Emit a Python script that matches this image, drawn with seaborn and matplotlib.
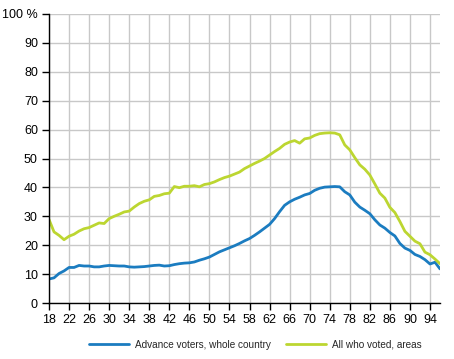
import numpy as np
import pandas as pd
import matplotlib
matplotlib.use("Agg")
import matplotlib.pyplot as plt
import seaborn as sns

# Age 18..96
ages = list(range(18, 97))

advance_voters = [
    8.3, 8.7, 10.2, 11.1, 12.3, 12.3, 13.0, 12.8, 12.8, 12.5,   # 18-27
    12.5, 12.8, 13.0, 12.9, 12.8, 12.8, 12.5, 12.4, 12.5, 12.6,  # 28-37
    12.8, 13.0, 13.1, 12.8, 12.9, 13.3, 13.6, 13.8, 13.9, 14.2,  # 38-47
    14.8, 15.3, 15.9, 16.8, 17.7, 18.4, 19.1, 19.8, 20.6, 21.5,  # 48-57
    22.3, 23.4, 24.6, 25.9, 27.2, 29.2, 31.6, 33.8, 35.0, 35.9,  # 58-67
    36.6, 37.4, 37.9, 39.0, 39.7, 40.1, 40.2, 40.3, 40.2, 38.5,  # 68-77
    37.4, 34.9, 33.2, 32.1, 30.9, 28.8, 27.0, 25.9, 24.4, 23.2,  # 78-87
    20.6, 19.0, 18.2, 16.8, 16.1, 15.0, 13.5, 14.1, 11.8         # 88-96
]

all_voted = [
    28.9, 24.6, 23.4, 21.9, 23.1, 23.8, 24.9, 25.7, 26.1, 26.9,  # 18-27
    27.7, 27.5, 29.2, 30.0, 30.7, 31.5, 31.8, 33.2, 34.4, 35.2,  # 28-37
    35.7, 36.9, 37.2, 37.8, 38.0, 40.3, 39.9, 40.4, 40.4, 40.6,  # 38-47
    40.2, 41.0, 41.3, 41.9, 42.7, 43.4, 43.9, 44.6, 45.3, 46.5,  # 48-57
    47.4, 48.3, 49.1, 50.0, 51.2, 52.4, 53.5, 54.9, 55.7, 56.2,  # 58-67
    55.3, 56.8, 57.1, 58.0, 58.6, 58.8, 58.9, 58.8, 58.2, 54.7,  # 68-77
    53.0, 50.3, 47.8, 46.3, 44.3, 41.2, 38.0, 36.3, 33.1, 31.3,  # 78-87
    28.2, 24.8, 23.1, 21.4, 20.5, 17.6, 16.7, 15.2, 13.6         # 88-96
]

series_names = ["Advance voters, whole country", "All who voted, areas"]
colors = ["#1b7cc0", "#bcd631"]

df = pd.DataFrame({"Age": ages,
                   series_names[0]: advance_voters,
                   series_names[1]: all_voted})
df_long = df.melt(id_vars="Age", var_name="Series", value_name="Share")

sns.set_style("white")
plt.rcParams['font.family'] = ['Liberation Sans', 'DejaVu Sans']

fig = plt.figure(figsize=(4.54, 3.59), dpi=100)
ax = fig.add_axes([49 / 454, 1 - 303 / 359, (440 - 49) / 454, (303 - 14) / 359])

sns.lineplot(data=df_long, x="Age", y="Share", hue="Series", palette=colors,
             linewidth=2, ax=ax)

ax.set_xlim(18, 96)
ax.set_ylim(0, 100)
xticks = list(range(18, 96, 4))
ax.set_xticks(xticks)
ax.set_xticklabels([str(t) for t in xticks])
yticks = list(range(0, 101, 10))
ax.set_yticks(yticks)
ax.set_yticklabels([str(t) if t < 100 else "100 %" for t in yticks])
ax.set_xlabel("")
ax.set_ylabel("")

ax.grid(True, color="#c8c8c8", linewidth=1)
ax.set_axisbelow(True)
for s in ["top", "right"]:
    ax.spines[s].set_visible(False)
for s in ["left", "bottom"]:
    ax.spines[s].set_color("black")
    ax.spines[s].set_linewidth(1)
ax.tick_params(axis="both", which="both", direction="out", length=5, width=1,
               color="black", labelsize=9, labelcolor="black", pad=3,
               bottom=True, left=True)

handles, labels = ax.get_legend_handles_labels()
ax.legend(handles, labels, loc="center", bbox_to_anchor=(0.527, -0.145),
          ncol=2, frameon=False, fontsize=7.2, handlelength=4.0,
          columnspacing=1.5, handletextpad=0.6)

fig.savefig("out.png", dpi=100)
